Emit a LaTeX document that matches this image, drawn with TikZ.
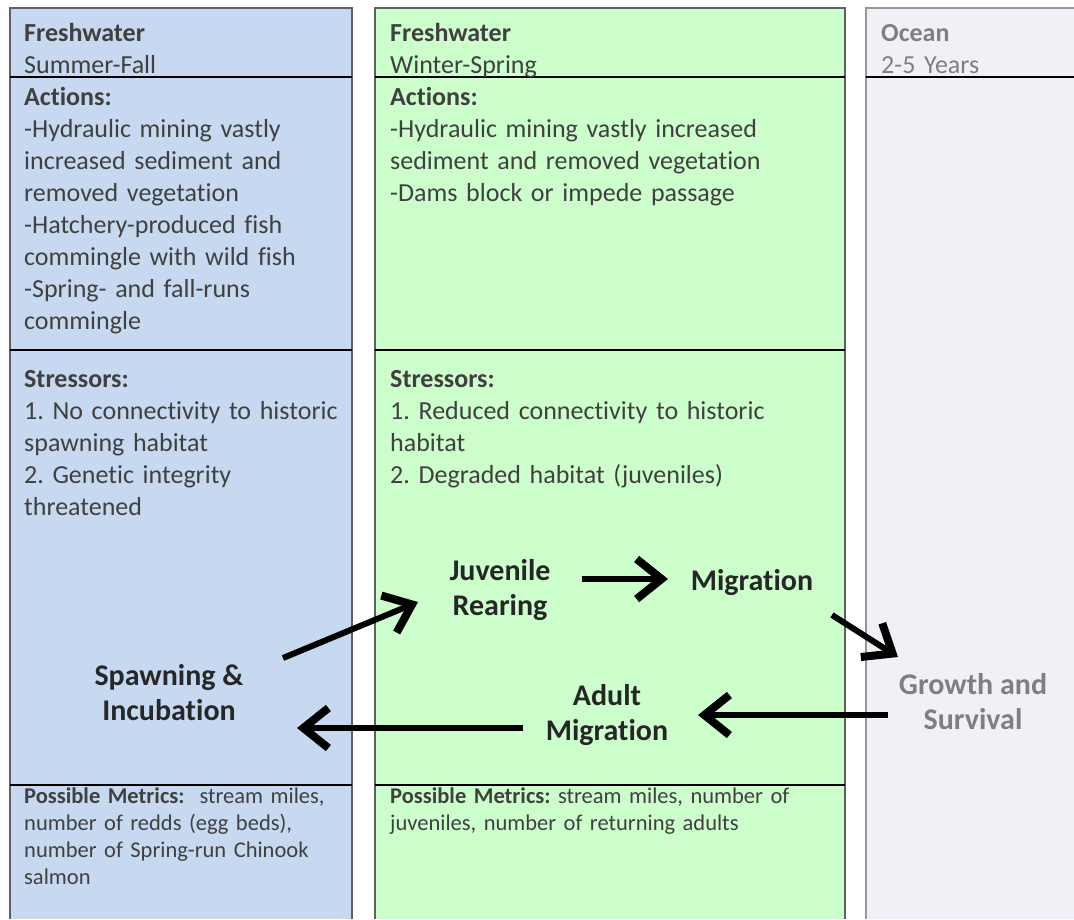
\documentclass[tikz,border=0pt]{standalone}
\usepackage{fontspec}
\setmainfont{Carlito}[Ligatures=NoCommon]
\usetikzlibrary{arrows.meta}
\definecolor{fwblue}{HTML}{C6D9F1}
\definecolor{fwgreen}{HTML}{CCFFCC}
\definecolor{oceangray}{HTML}{F2F0F6}
\definecolor{txtgray}{HTML}{404040}
\definecolor{paletxt}{HTML}{7F7F7F}
\definecolor{edgegray}{HTML}{606060}
\frenchspacing
\begin{document}
\begin{tikzpicture}[x=1pt,y=-1pt,
    txt/.style={anchor=base west,inner sep=0,align=left,text width=#1,text=txtgray,font=\fontsize{26}{32}\selectfont},
    met/.style={anchor=base west,inner sep=0,align=left,text width=#1,text=txtgray,font=\fontsize{22.5}{27}\selectfont},
    stage/.style={inner sep=0,align=center,font=\bfseries\fontsize{30}{35}\selectfont},
    flow/.style={line width=6pt,-{Straight Barb[length=25pt,width=40pt,line width'=8pt]}}]
    \useasboundingbox (0,0) rectangle (1074,919);
    % the three columns
    \foreach \l/\r/\c in {10/352/fwblue,375/845/fwgreen} {
        \fill[\c] (\l,8) rectangle (\r,919);
        \draw[edgegray,line width=1.2pt] (\l,919) -- (\l,8) -- (\r,8) -- (\r,919);
        \foreach \y in {77,350,785}
            \draw[line width=1.4pt] (\l,\y) -- (\r,\y);
    }
    \fill[oceangray] (866,8) rectangle (1074,919);
    \draw[paletxt!80,line width=1.2pt] (866,919) -- (866,8) -- (1074,8);
    \draw[line width=1.4pt] (866,77) -- (1074,77);

    % column texts
    \node[txt=330pt] (sfact) at (24,41) {\textbf{Freshwater}\\Summer-Fall\\\textbf{Actions:}\\-Hydraulic mining vastly\\increased sediment and\\removed vegetation\\-Hatchery-produced fish\\commingle with wild fish\\-Spring- and fall-runs\\commingle};
    \node[txt=330pt] (sfstr) at (24,387) {\textbf{Stressors:}\\1. No connectivity to historic\\spawning habitat\\2. Genetic integrity\\threatened};
    \node[met=325pt] (sfmet) at (24,803) {\textbf{Possible Metrics:}\ \ stream miles,\\number of redds (egg beds),\\number of Spring-run Chinook\\salmon};
    \node[txt=450pt] (wsact) at (390,41) {\textbf{Freshwater}\\Winter-Spring\\\textbf{Actions:}\\-Hydraulic mining vastly increased\\sediment and removed vegetation\\-Dams block or impede passage};
    \node[txt=450pt] (wsstr) at (390,387) {\textbf{Stressors:}\\1. Reduced connectivity to historic\\habitat\\2. Degraded habitat (juveniles)};
    \node[met=450pt] (wsmet) at (390,803) {\textbf{Possible Metrics:} stream miles, number of\\juveniles, number of returning adults};
    \node[txt=190pt,text=paletxt] (ochead) at (881,41) {\textbf{Ocean}\\2-5 Years};

    % life stages
    \node[stage,text=txtgray!60!black] (spawn) at (169,693) {Spawning \&\\Incubation};
    \node[stage,text=black!85] (juv) at (500,590) {Juvenile\\Rearing};
    \node[stage,text=black!85] (mig) at (752,583) {Migration};
    \node[stage,text=paletxt] (grow) at (973,702) {Growth and\\Survival};
    \node[stage,text=black!85] (adult) at (607,715) {Adult\\Migration};

    \draw[flow] ([shift={(114,-35)}]spawn.center) -- ([shift={(-82,12)}]juv.center);
    \draw[flow] ([shift={(82,-11)}]juv.center) -- ([shift={(-84,-4)}]mig.center);
    \draw[flow] ([shift={(80,32)}]mig.center) -- ([shift={(-75,-45)}]grow.center);
    \draw[flow] ([shift={(-85,13)}]grow.center) -- ([shift={(91,0)}]adult.center);
    \draw[flow] ([shift={(-84,13)}]adult.center) -- ([shift={(128,35)}]spawn.center);
\end{tikzpicture}
\end{document}
